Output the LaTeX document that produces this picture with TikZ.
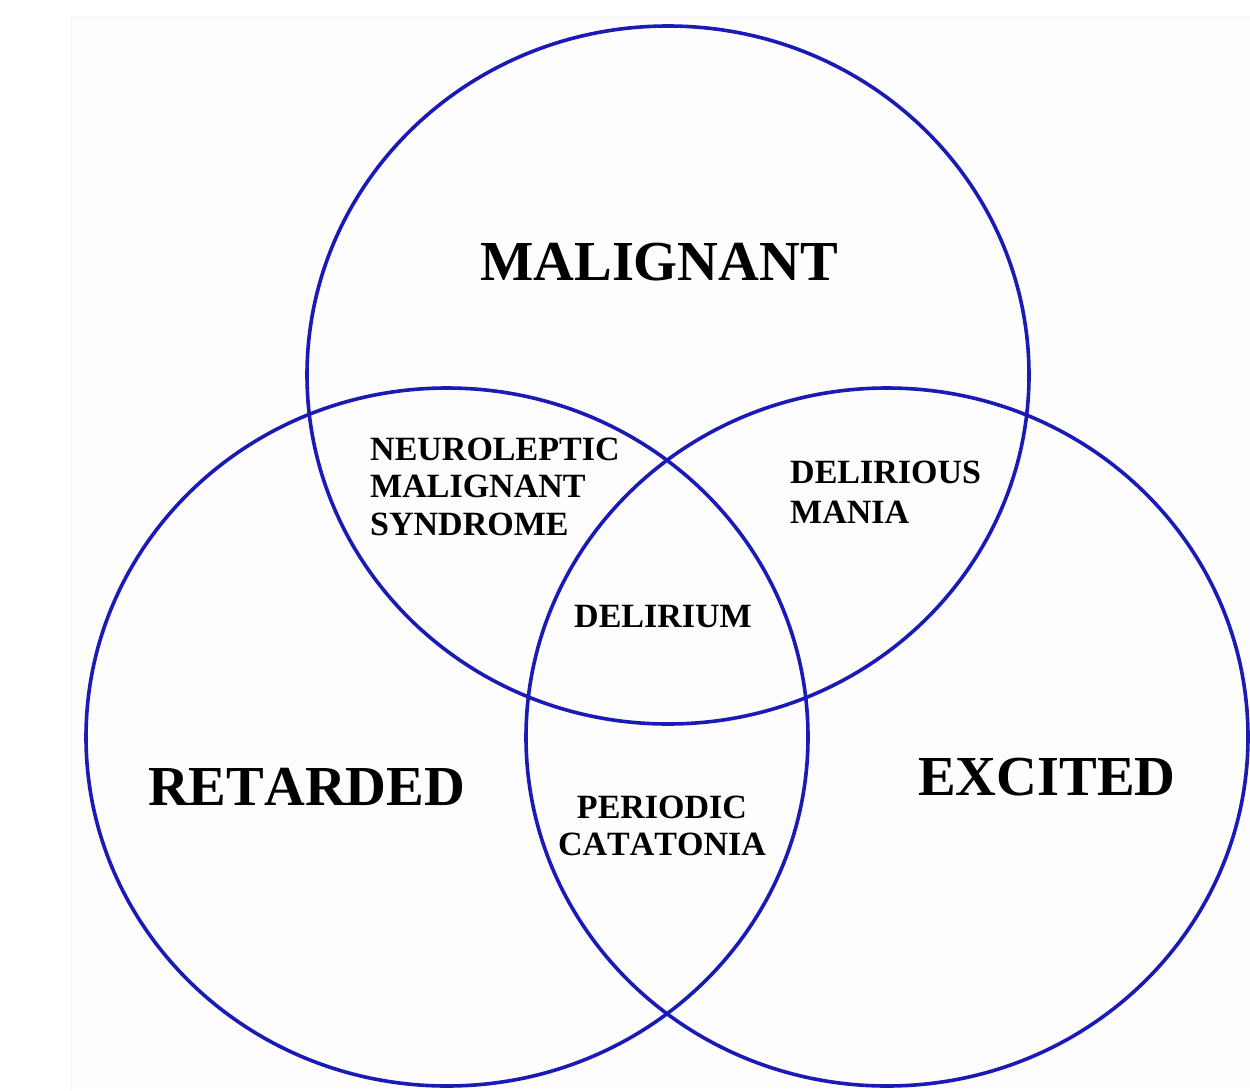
\documentclass[tikz,border=0pt]{standalone}
\usepackage{fontspec}
\setmainfont{Liberation Serif}[Kerning=Off]
\definecolor{vennblue}{RGB}{26,26,182}
\definecolor{paper}{RGB}{253,253,253}
\definecolor{paperedge}{RGB}{246,246,246}
\begin{document}
\begin{tikzpicture}[x=1pt,y=-1pt,
  ring/.style={draw=vennblue,line width=3.6pt},
  bigtxt/.style={inner sep=0pt,font=\bfseries\fontsize{56.5}{60}\selectfont},
  smalltxt/.style={inner sep=0pt,align=left,font=\bfseries\fontsize{34}{37.5}\selectfont},
  ctrtxt/.style={inner sep=0pt,align=center,font=\bfseries\fontsize{34}{37}\selectfont}]
\useasboundingbox (0,0) rectangle (1250,1090);
\fill[paper] (71,16) rectangle (1250,1090);
\draw[paperedge,line width=1pt] (71.5,1090) -- (71.5,16.5) -- (1250,16.5);
% circles
\draw[ring] (668,375) ellipse [x radius=361pt, y radius=349pt];
\draw[ring] (447,737) ellipse [x radius=361pt, y radius=349pt];
\draw[ring] (887,737) ellipse [x radius=361pt, y radius=349pt];
% labels
\node[bigtxt,anchor=base west] (malig) at (480,280) {MALIGNANT};
\node[bigtxt,anchor=base west] (ret) at (148,805) {RETARDED};
\node[bigtxt,anchor=base west] (exc) at (918,795) {EXCITED};
\node[smalltxt,anchor=north west] (nms) at (370,437.5) {NEUROLEPTIC\\MALIGNANT\\SYNDROME};
\node[smalltxt,anchor=north west] (dm) at (790,460.5) {DELIRIOUS\\[2.5pt]MANIA};
\node[ctrtxt,anchor=base] (del) at (663,627) {DELIRIUM};
\node[ctrtxt,anchor=north] (pc) at (662,795.5) {PERIODIC\\CATATONIA};
\end{tikzpicture}
\end{document}
